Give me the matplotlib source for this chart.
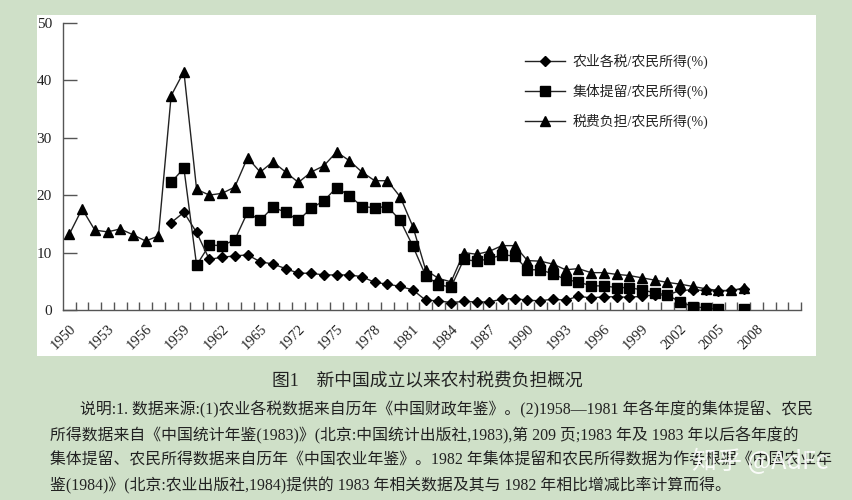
import numpy as np
import matplotlib
matplotlib.use("Agg")
import matplotlib.pyplot as plt
from matplotlib.lines import Line2D
from matplotlib.patches import Rectangle

plt.rcParams['font.family'] = ['Liberation Serif', 'Noto Sans CJK SC', 'DejaVu Sans']

nan = np.nan
# category labels shown under the axis (every third category)
years = list(range(1950, 1966)) + [1970, 1971] + list(range(1972, 2009))
n_cat = 58  # axis keeps three empty categories after 2008

# 农业各税/农民所得(%)
tax = [nan] * 8 + [15.2, 17.0, 13.5, 8.8, 9.2, 9.4, 9.6, 8.4, 8.0, 7.2,
                   6.4, 6.4, 6.1, 6.1, 6.1, 5.8, 4.8, 4.5, 4.1, 3.5,
                   1.7, 1.6, 1.3, 1.5, 1.4, 1.4, 1.9, 2.0, 1.7, 1.6,
                   1.9, 1.7, 2.4, 2.1, 2.3, 2.3, 2.2, 2.4, 2.6, 2.6,
                   3.4, 3.5, 3.4, 3.3, 3.4, 3.7]
# 集体提留/农民所得(%)
retain = [nan] * 8 + [22.2, 24.7, 7.8, 11.3, 11.2, 12.2, 17.0, 15.6, 17.9, 17.0,
                      15.6, 17.7, 19.0, 21.3, 19.9, 18.0, 17.8, 18.0, 15.6, 11.1,
                      6.0, 4.4, 4.0, 8.8, 8.5, 8.9, 9.6, 9.4, 7.0, 7.0,
                      6.3, 5.3, 4.9, 4.2, 4.2, 3.9, 3.9, 3.5, 3.0, 2.6,
                      1.4, 0.6, 0.35, 0.15, nan, 0.15]
# 税费负担/农民所得(%)
burden = [13.2, 17.6, 13.9, 13.6, 14.1, 13.1, 12.0, 12.9, 37.3, 41.5,
          21.0, 20.0, 20.3, 21.4, 26.5, 24.0, 25.8, 24.0, 22.2, 24.0,
          25.1, 27.5, 26.0, 24.0, 22.5, 22.5, 19.7, 14.5, 7.0, 5.5,
          4.9, 10.0, 9.7, 10.2, 11.2, 11.2, 8.6, 8.5, 8.0, 7.0,
          7.2, 6.5, 6.5, 6.2, 6.0, 5.6, 5.2, 4.8, 4.5, 4.1,
          3.7, 3.4, 3.4, 3.8]

names = ["农业各税/农民所得(%)", "集体提留/农民所得(%)", "税费负担/农民所得(%)"]

title = "图1　新中国成立以来农村税费负担概况"
notes = [
    "说明:1. 数据来源:(1)农业各税数据来自历年《中国财政年鉴》。(2)1958—1981 年各年度的集体提留、农民",
    "所得数据来自《中国统计年鉴(1983)》(北京:中国统计出版社,1983),第 209 页;1983 年及 1983 年以后各年度的",
    "集体提留、农民所得数据来自历年《中国农业年鉴》。1982 年集体提留和农民所得数据为作者根据《中国农业年",
    "鉴(1984)》(北京:农业出版社,1984)提供的 1983 年相关数据及其与 1982 年相比增减比率计算而得。",
]

W, H = 852, 500
fig = plt.figure(figsize=(W / 100, H / 100), dpi=100)
fig.patch.set_facecolor('#cfe0c8')
# white panel behind the chart
fig.patches.append(Rectangle((37 / W, 1 - 356 / H), (816 - 37) / W, (356 - 15) / H,
                             transform=fig.transFigure, facecolor='white',
                             edgecolor='none', zorder=-1))

ax = fig.add_axes([63 / W, 1 - 310 / H, (801 - 63) / W, (310 - 22.7) / H])
ax.set_zorder(2)
ax.set_facecolor('none')

x = np.arange(len(burden))
lc = '#222222'
ax.plot(x, burden, color=lc, lw=1.0, marker='^', ms=7.5, mfc='black', mec='black', zorder=3)
ax.plot(x, retain, color=lc, lw=1.0, marker='s', ms=7, mfc='black', mec='black', zorder=4)
ax.plot(x, tax, color=lc, lw=1.0, marker='D', ms=5.5, mfc='black', mec='black', zorder=5)

ax.set_xlim(-0.5, n_cat - 0.5)
ax.set_ylim(0, 50)
ax.set_yticks(range(0, 51, 10))
for s in ['top', 'right']:
    ax.spines[s].set_visible(False)
for s in ['left', 'bottom']:
    ax.spines[s].set_color('#555555')
    ax.spines[s].set_linewidth(1.0)

ax.tick_params(axis='y', direction='in', length=10, width=1, color='#555555',
               labelsize=11, pad=8, labelcolor='#222222')
lab_pos = list(range(0, len(years), 3))
ax.set_xticks(lab_pos)
ax.set_xticklabels([str(years[i]) for i in lab_pos], rotation=45, ha='right',
                   va='top', rotation_mode='anchor')
ax.tick_params(axis='x', which='major', length=0, labelsize=10.5, pad=9,
               labelcolor='#222222')
ax.set_xticks(np.arange(0.5, n_cat, 1.0), minor=True)
ax.tick_params(axis='x', which='minor', direction='in', length=6, width=1, color='#555555')

handles = [Line2D([], [], color=lc, lw=1.0, marker='D', ms=5.5, mfc='black', mec='black'),
           Line2D([], [], color=lc, lw=1.0, marker='s', ms=7, mfc='black', mec='black'),
           Line2D([], [], color=lc, lw=1.0, marker='^', ms=7.5, mfc='black', mec='black')]
fig.legend(handles, names, loc='upper left', bbox_to_anchor=(525 / W, 1 - 54 / H),
           frameon=False, fontsize=10, handlelength=2.9, handletextpad=0.5,
           labelspacing=1.05, borderpad=0, borderaxespad=0, labelcolor='#222222')

fig.text(427 / W, 1 - 381 / H, title, ha='center', va='center', fontsize=12.8, color='#222222')
for i, line in enumerate(notes):
    x0 = 80 if i == 0 else 50
    fig.text(x0 / W, 1 - (410 + 25.3 * i) / H, line, ha='left', va='center',
             fontsize=11.4, color='#222222')

fig.text(760 / W, 1 - 462 / H, "知乎 @AdFc", ha='center', va='center', fontsize=18,
         color='white', alpha=0.9, family=['Noto Sans CJK SC', 'DejaVu Sans'])

fig.savefig("out.png", dpi=100, facecolor=fig.get_facecolor())
